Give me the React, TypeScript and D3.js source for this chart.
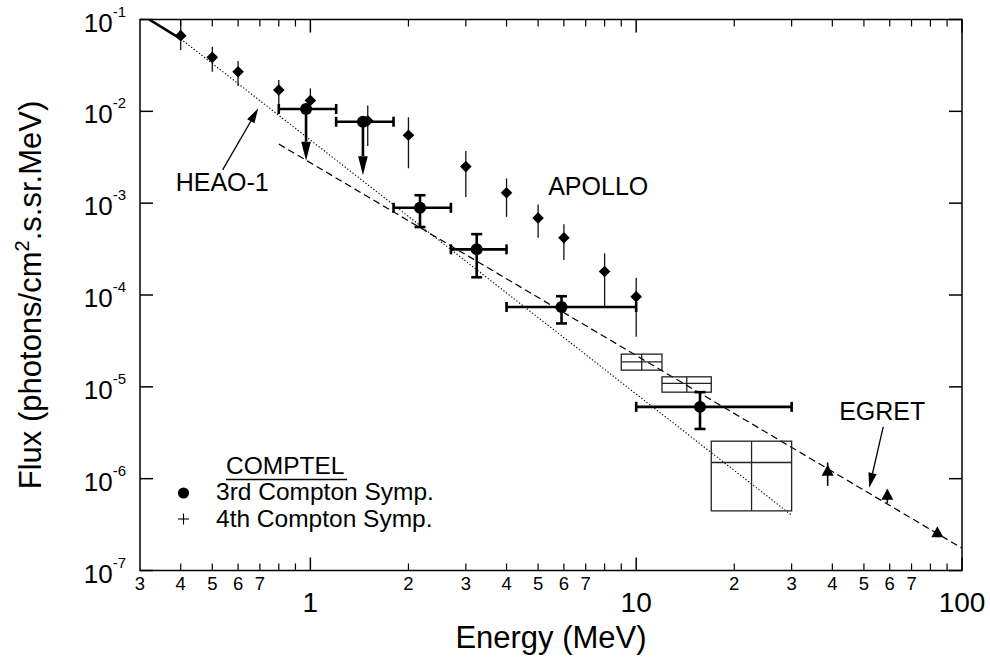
import React from "react";
import * as d3 from "d3";

const W = 990;
const H = 661;
const FONT = "'Liberation Sans', Arial, Helvetica, sans-serif";

// ---------- axes ----------
const xDomain = [0.3, 100];
const yDomain = [1e-7, 1e-1];
const yTickExps = [-1, -2, -3, -4, -5, -6, -7];
const xMajorTicks = [1, 10, 100];
const xMajorLabels = ["1", "10", "100"];
const xMinorTicks = [0.4, 0.5, 0.6, 0.7, 0.8, 0.9, 2, 3, 4, 5, 6, 7, 8, 9, 20, 30, 40, 50, 60, 70, 80, 90];
const xMinorLabelVals = [0.3, 0.4, 0.5, 0.6, 0.7, 2, 3, 4, 5, 6, 7, 20, 30, 40, 50, 60, 70];
const xMinorLabels = ["3", "4", "5", "6", "7", "2", "3", "4", "5", "6", "7", "2", "3", "4", "5", "6", "7"];

// ---------- APOLLO (diamonds) ----------
const apolloE = [0.4, 0.5, 0.6, 0.8, 1.0, 1.5, 2.0, 3.0, 4.0, 5.0, 6.0, 8.0, 10];
const apolloF = [0.0667, 0.0387, 0.027, 0.0171, 0.0131, 0.0079, 0.0055, 0.0025, 0.0013, 0.00069, 0.00042, 0.00018, 0.000096];
const apolloHi = [0.098, 0.0506, 0.0353, 0.0219, 0.0178, 0.0116, 0.0086, 0.0037, 0.00186, 0.00097, 0.00059, 0.000284, 0.000154];
const apolloLo = [0.0466, 0.027, 0.0189, 0.0096, 0.0096, 0.0042, 0.0024, 0.00117, 0.00071, 0.00042, 0.00024, 0.000074, 0.000035];

// ---------- COMPTEL 3rd Compton Symp. (filled circles) ----------
const c3E = [0.97, 1.45, 2.17, 3.24, 5.9, 15.7];
const c3F = [0.0106, 0.0077, 0.00089, 0.000314, 0.000074, 0.00000605];
const c3Elo = [0.8, 1.2, 1.8, 2.7, 4.0, 10];
const c3Ehi = [1.2, 1.8, 2.7, 4.0, 10, 30];
const c3Fhi = [null, null, 0.00122, 0.00046, 0.000097, 0.00000875];
const c3Flo = [0.0029, 0.00202, 0.00055, 0.000156, 0.000049, 0.00000348];
const c3UpperLimit = [true, true, false, false, false, false];

// ---------- COMPTEL 4th Compton Symp. (boxes) ----------
const c4E = [10.4, 14.3, 22.6];
const c4Elo = [9, 12, 17];
const c4Ehi = [12, 17, 30];
const c4F = [1.87e-5, 1.09e-5, 1.5e-6];
const c4Fhi = [2.27e-5, 1.285e-5, 2.56e-6];
const c4Flo = [1.52e-5, 8.75e-6, 4.46e-7];

// ---------- EGRET (triangles) ----------
const egE = [38.7, 59, 84];
const egF = [1.19e-6, 6.5e-7, 2.55e-7];
const egHi = [1.5e-6, 7.6e-7, null];
const egLo = [8.35e-7, 5.4e-7, null];

// ---------- lines ----------
const heaoSolidE = [0.32, 0.4];
const heaoSolidF = [0.1, 0.0615];
const heaoDotE = [0.4, 30];
const heaoDotF = [0.0615, 4.0e-7];
const fitE = [0.8, 100];
const fitF = [4.4e-3, 1.75e-7];

// ---------- annotations ----------
const labelNames = ["HEAO-1", "APOLLO", "EGRET"];
const labelE = [0.386, 5.37, 41.97];
const labelF = [1.364e-3, 1.22e-3, 4.33e-6];
const arrowTailE = [0.538, 57.3];
const arrowTailF = [2.3e-3, 3.66e-6];
const arrowTipE = [0.692, 51.9];
const arrowTipF = [0.0108, 7.94e-7];

function arrow(x1: number, y1: number, x2: number, y2: number, len: number, half: number) {
  const dx = x2 - x1, dy = y2 - y1;
  const L = Math.hypot(dx, dy);
  const ux = dx / L, uy = dy / L;
  const bx = x2 - ux * len, by = y2 - uy * len;
  const px = -uy * half, py = ux * half;
  return {
    line: [x1, y1, bx, by],
    head: `M${x2},${y2}L${bx + px},${by + py}L${bx - px},${by - py}Z`,
  };
}

export default function App() {
  const x = d3.scaleLog().domain(xDomain).range([140, 962]);
  const y = d3.scaleLog().domain(yDomain).range([570.5, 19.5]);
  const [x0, x1] = x.range();
  const [y0, y1] = [y.range()[1], y.range()[0]]; // top, bottom

  const line = d3
    .line<[number, number]>()
    .x((d) => x(d[0]))
    .y((d) => y(d[1]));

  const diamond = (s: number) => `M0,${-s}L${s},0L0,${s}L${-s},0Z`;
  const tri = "M0,-7L6,4L-6,4Z";

  return (
    <svg
      width={W}
      height={H}
      style={{ position: "absolute", left: 0, top: 0, background: "#fff" }}
      fontFamily={FONT}
    >
      <defs>
        <clipPath id="plot">
          <rect x={x0} y={y0} width={x1 - x0} height={y1 - y0} />
        </clipPath>
      </defs>
      <rect width={W} height={H} fill="#fff" />

      {/* lines */}
      <g clipPath="url(#plot)" fill="none" stroke="#000">
        <path d={line(heaoSolidE.map((e, i) => [e, heaoSolidF[i]]) as any) || ""} strokeWidth={2.6} />
        <path
          d={line(heaoDotE.map((e, i) => [e, heaoDotF[i]]) as any) || ""}
          strokeWidth={1.1}
          strokeDasharray="1.3 2"
        />
        <path
          d={line(fitE.map((e, i) => [e, fitF[i]]) as any) || ""}
          strokeWidth={1.2}
          strokeDasharray="7 4"
        />
      </g>

      {/* APOLLO */}
      <g>
        {apolloE.map((e, i) => (
          <g key={"ap" + i}>
            <line
              x1={x(e)}
              x2={x(e)}
              y1={y(Math.min(apolloHi[i], 0.1))}
              y2={y(apolloLo[i])}
              stroke="#111"
              strokeWidth={1.3}
            />
            <path d={diamond(5.8)} transform={`translate(${x(e)},${y(apolloF[i])})`} fill="#000" />
          </g>
        ))}
      </g>

      {/* COMPTEL 4th boxes */}
      <g fill="none" stroke="#222" strokeWidth={1.3}>
        {c4E.map((e, i) => (
          <g key={"c4" + i}>
            <rect
              x={x(c4Elo[i])}
              y={y(c4Fhi[i])}
              width={x(c4Ehi[i]) - x(c4Elo[i])}
              height={y(c4Flo[i]) - y(c4Fhi[i])}
            />
            <line x1={x(c4Elo[i])} x2={x(c4Ehi[i])} y1={y(c4F[i])} y2={y(c4F[i])} />
            <line x1={x(e)} x2={x(e)} y1={y(c4Fhi[i])} y2={y(c4Flo[i])} />
          </g>
        ))}
      </g>

      {/* COMPTEL 3rd circles */}
      <g stroke="#000" strokeWidth={2.6}>
        {c3E.map((e, i) => {
          const cx = x(e);
          const cy = y(c3F[i]);
          const xl = x(c3Elo[i]);
          const xr = x(c3Ehi[i]);
          return (
            <g key={"c3" + i}>
              <line x1={xl} x2={xr} y1={cy} y2={cy} />
              <line x1={xl} x2={xl} y1={cy - 5} y2={cy + 5} />
              <line x1={xr} x2={xr} y1={cy - 5} y2={cy + 5} />
              {c3UpperLimit[i] ? (
                (() => {
                  const a = arrow(cx, cy, cx, y(c3Flo[i]), 19, 4.8);
                  return (
                    <g>
                      <line x1={a.line[0]} y1={a.line[1]} x2={a.line[2]} y2={a.line[3]} />
                      <path d={a.head} fill="#000" stroke="none" />
                    </g>
                  );
                })()
              ) : (
                <g>
                  <line x1={cx} x2={cx} y1={y(c3Fhi[i] as number)} y2={y(c3Flo[i])} />
                  <line x1={cx - 5.5} x2={cx + 5.5} y1={y(c3Fhi[i] as number)} y2={y(c3Fhi[i] as number)} />
                  <line x1={cx - 5.5} x2={cx + 5.5} y1={y(c3Flo[i])} y2={y(c3Flo[i])} />
                </g>
              )}
              <circle cx={cx} cy={cy} r={6} fill="#000" stroke="none" />
            </g>
          );
        })}
      </g>

      {/* EGRET */}
      <g>
        {egE.map((e, i) => (
          <g key={"eg" + i}>
            {egHi[i] != null && (
              <line
                x1={x(e)}
                x2={x(e)}
                y1={y(egHi[i] as number)}
                y2={y(egLo[i] as number)}
                stroke="#000"
                strokeWidth={1.6}
              />
            )}
            <path d={tri} transform={`translate(${x(e)},${y(egF[i])})`} fill="#000" />
          </g>
        ))}
      </g>

      {/* annotations */}
      <g fontSize={25} fill="#000">
        {labelNames.map((t, i) => (
          <text key={t} x={x(labelE[i])} y={y(labelF[i])}>
            {t}
          </text>
        ))}
      </g>
      <g>
        {arrowTailE.map((e, i) => {
          const a = arrow(x(e), y(arrowTailF[i]), x(arrowTipE[i]), y(arrowTipF[i]), 15, 4.2);
          return (
            <g key={"ar" + i}>
              <line x1={a.line[0]} y1={a.line[1]} x2={a.line[2]} y2={a.line[3]} stroke="#000" strokeWidth={1.3} />
              <path d={a.head} fill="#000" />
            </g>
          );
        })}
      </g>

      {/* legend */}
      <g fontSize={24.5} fill="#000">
        <text x={226} y={474}>COMPTEL</text>
        <line x1={226} x2={347} y1={479.5} y2={479.5} stroke="#000" strokeWidth={1.6} />
        <circle cx={183.5} cy={493} r={5.6} fill="#000" />
        <text x={216} y={500}>3rd Compton Symp.</text>
        <line x1={178} x2={189} y1={519} y2={519} stroke="#000" strokeWidth={1.1} />
        <line x1={183.5} x2={183.5} y1={513.5} y2={524.5} stroke="#000" strokeWidth={1.1} />
        <text x={216} y={527}>4th Compton Symp.</text>
      </g>

      {/* frame & ticks */}
      <g stroke="#000" strokeWidth={1.5} fill="none">
        <rect x={x0} y={y0} width={x1 - x0} height={y1 - y0} />
        {yTickExps.map((p) => (
          <g key={"yt" + p}>
            <line x1={x0} x2={x0 + 13} y1={y(10 ** p)} y2={y(10 ** p)} />
            <line x1={x1} x2={x1 - 13} y1={y(10 ** p)} y2={y(10 ** p)} />
          </g>
        ))}
        {xMajorTicks.map((v) => (
          <g key={"xM" + v}>
            <line x1={x(v)} x2={x(v)} y1={y1} y2={y1 - 13} />
            <line x1={x(v)} x2={x(v)} y1={y0} y2={y0 + 13} />
          </g>
        ))}
        {xMinorTicks.map((v) => (
          <g key={"xm" + v} strokeWidth={1.2}>
            <line x1={x(v)} x2={x(v)} y1={y1} y2={y1 - 7} />
            <line x1={x(v)} x2={x(v)} y1={y0} y2={y0 + 7} />
          </g>
        ))}
      </g>

      {/* tick labels */}
      <g fill="#000">
        {yTickExps.map((p) => (
          <text key={"yl" + p} x={126} y={y(10 ** p) + 12} textAnchor="end">
            <tspan fontSize={26}>10</tspan>
            <tspan fontSize={15} dy={-15}>{String(p)}</tspan>
          </text>
        ))}
        {xMinorLabelVals.map((v, i) => (
          <text key={"xl" + i} x={x(v)} y={590} fontSize={18.5} textAnchor="middle">
            {xMinorLabels[i]}
          </text>
        ))}
        {xMajorTicks.map((v, i) => (
          <text key={"xML" + v} x={x(v)} y={612} fontSize={28} textAnchor="middle">
            {xMajorLabels[i]}
          </text>
        ))}
      </g>

      {/* axis titles */}
      <text x={(x0 + x1) / 2} y={648} fontSize={31} textAnchor="middle" fill="#000">
        Energy (MeV)
      </text>
      <text
        transform={`translate(41,${(y0 + y1) / 2}) rotate(-90)`}
        fontSize={31}
        textAnchor="middle"
        fill="#000"
      >
        Flux (photons/cm<tspan fontSize={20} dy={-12}>2</tspan>
        <tspan dy={12}>.s.sr.MeV)</tspan>
      </text>
    </svg>
  );
}
